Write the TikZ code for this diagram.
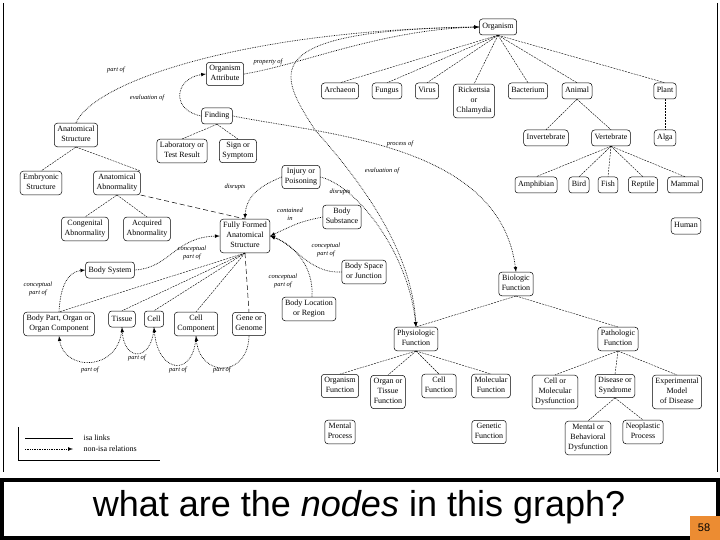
\documentclass[tikz,border=0pt]{standalone}
\usepackage{fontspec}
\setmainfont{Liberation Serif}
\newfontfamily\slidefont{Liberation Sans}
\usepackage{tikz}
\usetikzlibrary{arrows}
\usetikzlibrary{positioning, calc}

\definecolor{slideorange}{RGB}{236,140,50}

\tikzset{
  concept/.style={draw, rounded corners=3pt, line width=0.5pt, fill=white, align=center,
    font=\fontsize{8}{10}\selectfont, inner xsep=3pt, inner ysep=2.5pt, minimum height=16pt,
    execute at begin node=\strut, execute at end node=\strut},
  isa/.style={line width=0.4pt, dash pattern=on 2pt off 1pt},
  rel/.style={line width=0.7pt, densely dotted, -latex},
  rellabel/.style={font=\fontsize{6.5}{7.5}\selectfont\itshape, align=center, inner sep=1pt},
}

\begin{document}
\begin{tikzpicture}[x=1pt, y=-1pt]

      \useasboundingbox (0,0) rectangle (720,540);

      % slide frame
      \draw[line width=0.8pt] (3,3) -- (3,472);
      \draw[line width=0.8pt] (717,3) -- (717,472);

      % organisms
      \node[concept] (organism) at (498,27) {Organism};
      \node[concept] (archaeon) at (340,91) {Archaeon};
      \node[concept] (fungus) at (387,91) {Fungus};
      \node[concept] (virus) at (427,91) {Virus};
      \node[concept] (rickettsia) at (474,101) {Rickettsia\\or\\Chlamydia};
      \node[concept] (bacterium) at (528,91) {Bacterium};
      \node[concept] (animal) at (577,91) {Animal};
      \node[concept] (plant) at (665,91) {Plant};
      \node[concept] (invertebrate) at (546,138) {Invertebrate};
      \node[concept] (vertebrate) at (611,138) {Vertebrate};
      \node[concept] (alga) at (665,138) {Alga};
      \node[concept] (amphibian) at (536,185) {Amphibian};
      \node[concept] (bird) at (579,185) {Bird};
      \node[concept] (fish) at (608,185) {Fish};
      \node[concept] (reptile) at (643,185) {Reptile};
      \node[concept] (mammal) at (685,185) {Mammal};
      \node[concept] (human) at (686,226) {Human};

      % anatomy and findings
      \node[concept] (orgattr) at (225,74) {Organism\\Attribute};
      \node[concept] (anatstruct) at (76,135) {Anatomical\\Structure};
      \node[concept] (finding) at (217,116) {Finding};
      \node[concept] (labresult) at (182,151) {Laboratory or\\Test Result};
      \node[concept] (sign) at (238,151) {Sign or\\Symptom};
      \node[concept] (embryonic) at (41,183) {Embryonic\\Structure};
      \node[concept] (anatabn) at (117,183) {Anatomical\\Abnormality};
      \node[concept] (congenital) at (85,229) {Congenital\\Abnormality};
      \node[concept] (acquired) at (147,229) {Acquired\\Abnormality};
      \node[concept] (injury) at (301,177) {Injury or\\Poisoning};
      \node[concept] (fullyformed) at (245,236) {Fully Formed\\Anatomical\\Structure};
      \node[concept] (bodysubst) at (342,217) {Body\\Substance};
      \node[concept] (bodysystem) at (110,270) {Body System};
      \node[concept] (bodyspace) at (364,272) {Body Space\\or Junction};
      \node[concept] (bodyloc) at (309,309) {Body Location\\or Region};
      \node[concept] (bodypart) at (59,324) {Body Part, Organ or\\Organ Component};
      \node[concept] (tissue) at (122,319) {Tissue};
      \node[concept] (cell) at (154,319) {Cell};
      \node[concept] (cellcomp) at (196,324) {Cell\\Component};
      \node[concept] (gene) at (249,324) {Gene or\\Genome};

      % functions
      \node[concept] (biologic) at (516,284) {Biologic\\Function};
      \node[concept] (physio) at (416,339) {Physiologic\\Function};
      \node[concept] (patho) at (618,339) {Pathologic\\Function};
      \node[concept] (orgfunc) at (340,386) {Organism\\Function};
      \node[concept] (organfunc) at (388,392) {Organ or\\Tissue\\Function};
      \node[concept] (cellfunc) at (439,386) {Cell\\Function};
      \node[concept] (molfunc) at (491,386) {Molecular\\Function};
      \node[concept] (mental) at (340,432) {Mental\\Process};
      \node[concept] (genetic) at (489,432) {Genetic\\Function};
      \node[concept] (cellmol) at (555,392) {Cell or\\Molecular\\Dysfunction};
      \node[concept] (disease) at (615,386) {Disease or\\Syndrome};
      \node[concept] (expmodel) at (677,392) {Experimental\\Model\\of Disease};
      \node[concept] (mentalbeh) at (588,438) {Mental or\\Behavioral\\Dysfunction};
      \node[concept] (neoplastic) at (643,432) {Neoplastic\\Process};

      % isa links
      \draw[isa] (organism.south) -- (archaeon.north);
      \draw[isa] (organism.south) -- (fungus.north);
      \draw[isa] (organism.south) -- (virus.north);
      \draw[isa] (organism.south) -- (rickettsia.north);
      \draw[isa] (organism.south) -- (bacterium.north);
      \draw[isa] (organism.south) -- (animal.north);
      \draw[isa] (organism.south) -- (plant.north);
      \draw[isa] (animal.south) -- (invertebrate.north);
      \draw[isa] (animal.south) -- (vertebrate.north);
      \draw[isa] (plant.south) -- (alga.north);
      \draw[isa] (vertebrate.south) -- (amphibian.north);
      \draw[isa] (vertebrate.south) -- (bird.north);
      \draw[isa] (vertebrate.south) -- (fish.north);
      \draw[isa] (vertebrate.south) -- (reptile.north);
      \draw[isa] (vertebrate.south) -- (mammal.north);
      \draw[isa] (anatstruct.south) -- (embryonic.north);
      \draw[isa] (anatstruct.south) -- (anatabn.north east);
      \draw[isa] (anatabn.south) -- (congenital.north);
      \draw[isa] (anatabn.south) -- (acquired.north);
      \draw[line width=0.5pt, dash pattern=on 5pt off 3pt] (anatabn.south east) -- (fullyformed.north);
      \draw[isa] (finding.south) -- (labresult.north);
      \draw[isa] (finding.south) -- (sign.north);
      \draw[isa] (fullyformed.south) -- (bodypart.north);
      \draw[isa] (fullyformed.south) -- (tissue.north);
      \draw[isa] (fullyformed.south) -- (cell.north);
      \draw[isa] (fullyformed.south) -- (cellcomp.north);
      \draw[line width=0.5pt, dash pattern=on 5pt off 3pt] (fullyformed.south) -- (gene.north);
      \draw[isa] (biologic.south) -- (physio.north);
      \draw[isa] (biologic.south) -- (patho.north);
      \draw[isa] (physio.south) -- (orgfunc.north);
      \draw[isa] (physio.south) -- (organfunc.north);
      \draw[isa] (physio.south) -- (cellfunc.north);
      \draw[isa] (physio.south) -- (molfunc.north);
      \draw[isa] (patho.south) -- (cellmol.north);
      \draw[isa] (patho.south) -- (disease.north);
      \draw[isa] (patho.south) -- (expmodel.north);
      \draw[isa] (disease.south) -- (mentalbeh.north);
      \draw[isa] (disease.south) -- (neoplastic.north);

      % non-isa relations
      \draw[rel] (anatstruct.north) .. controls (95,80) and (250,30) .. (organism.west);
      \draw[rel] (orgattr.east) .. controls (300,65) and (380,30) .. (organism.west);
      \draw[rel] (finding.west) .. controls (170,110) and (175,78) .. (orgattr.west);
      \draw[rel] (organism.west) .. controls (250,30) and (280,75) .. (315,130)
                 .. controls (360,180) and (412,250) .. (physio.north);
      \draw[rel] (injury.east) .. controls (355,185) and (408,250) .. (physio.north);
      \draw[rel] (finding.east) .. controls (330,135) and (500,145) .. (biologic.north);
      \draw[rel] (injury.west) .. controls (262,185) and (246,195) .. (fullyformed.north);
      \draw[rel] (bodysubst.west) .. controls (300,222) .. (fullyformed.east);
      \draw[rel] (bodyspace.west) .. controls (310,274) and (295,245) .. (fullyformed.east);
      \draw[rel] ([xshift=3pt]bodyloc.north) .. controls (314,268) and (295,245) .. (fullyformed.east);
      \draw[rel] (bodysystem.east) .. controls (170,268) and (175,237) .. (fullyformed.west);
      \draw[rel] (bodypart.north) .. controls (60,290) and (66,272) .. (bodysystem.west);
      \draw[rel] (tissue.south) .. controls (120,372) and (64,372) .. (bodypart.south);
      \draw[rel] (cell.south) .. controls (152,362) and (124,362) .. (tissue.south);
      \draw[rel] (cellcomp.south) .. controls (194,378) and (158,374) .. (cell.south);
      \draw[rel] (gene.south) .. controls (248,378) and (200,378) .. (cellcomp.south);

      % relation labels
      \node[rellabel] (partofA) at (116,70) {part of};
      \node[rellabel] (propertyof) at (268,62) {property of};
      \node[rellabel] (evaluationA) at (147,98) {evaluation of};
      \node[rellabel] (processof) at (400,144) {process of};
      \node[rellabel] (evaluationB) at (382,171) {evaluation of};
      \node[rellabel] (disruptsA) at (235,187) {disrupts};
      \node[rellabel] (disruptsB) at (340,192) {disrupts};
      \node[rellabel] (containedin) at (290,214) {contained\\in};
      \node[rellabel] (conceptA) at (326,250) {conceptual\\part of};
      \node[rellabel] (conceptB) at (283,281) {conceptual\\part of};
      \node[rellabel] (conceptC) at (192,253) {conceptual\\part of};
      \node[rellabel] (conceptD) at (38,289) {conceptual\\part of};
      \node[rellabel] (partofB) at (90,370) {part of};
      \node[rellabel] (partofC) at (137,358) {part of};
      \node[rellabel] (partofD) at (178,370) {part of};
      \node[rellabel] (partofE) at (222,370) {part of};

      % legend
      \draw[line width=0.5pt] (18,427) -- (18,460) -- (160,460);
      \coordinate (isaA) at (25,438);
      \coordinate (isaB) at (73,438);
      \coordinate (relA) at (25,449);
      \coordinate (relB) at (73,449);
      \draw[line width=0.5pt] (isaA) -- (isaB);
      \draw[rel] (relA) -- (relB);
      \node[anchor=west, font=\fontsize{8}{10}\selectfont] (isatext) at (80,438) {isa links};
      \node[anchor=west, font=\fontsize{8}{10}\selectfont] (reltext) at (80,449) {non-isa relations};

      % question box
      \draw[line width=4pt, fill=white] (2,480) rectangle (718,538);
      \node[font=\slidefont\fontsize{36}{40}\selectfont] (question) at (359,507) {what are the \textit{nodes} in this graph?};
      \fill[slideorange] (690,516) rectangle (720,540);
      \node[font=\slidefont\fontsize{11}{12}\selectfont] (pagenum) at (704,528) {58};
    \end{tikzpicture}
\end{document}
